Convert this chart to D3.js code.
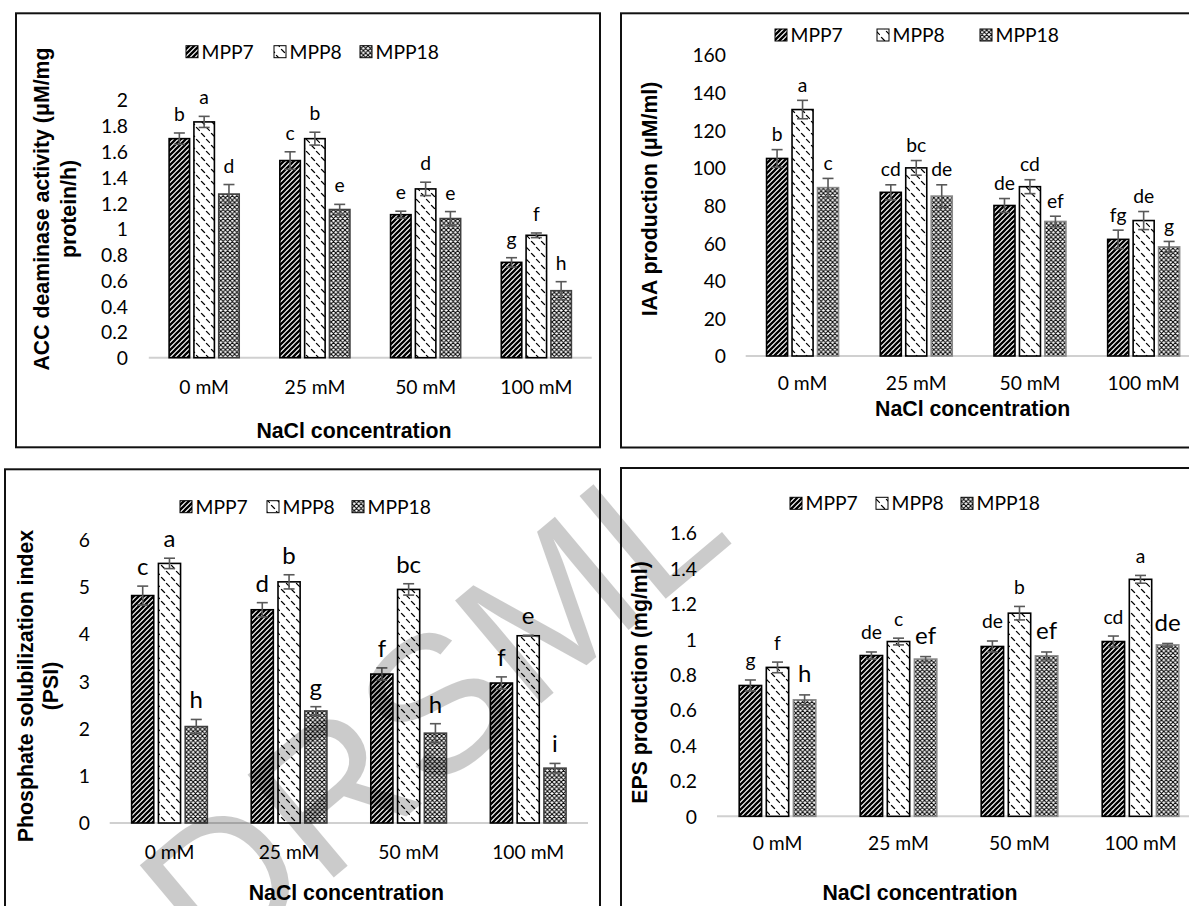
<!DOCTYPE html>
<html><head><meta charset="utf-8">
<script src="https://cdn.jsdelivr.net/npm/d3@7"></script>
<style>body{margin:0;background:#fff;overflow:hidden}</style>
</head><body>
<svg id="c" width="1189" height="906"></svg>
<script>
// ---------- DATA ----------
const categories = ["0 mM", "25 mM", "50 mM", "100 mM"];
const seriesNames = ["MPP7", "MPP8", "MPP18"];
const xAxisTitle = "NaCl concentration";

// ACC deaminase activity
const accTicks = [0, 0.2, 0.4, 0.6, 0.8, 1, 1.2, 1.4, 1.6, 1.8, 2];
const accMPP7 = [1.70, 1.53, 1.11, 0.74];
const accMPP8 = [1.83, 1.70, 1.31, 0.95];
const accMPP18 = [1.27, 1.15, 1.08, 0.52];
const accErrMPP7 = [0.044, 0.068, 0.027, 0.036];
const accErrMPP8 = [0.043, 0.05, 0.052, 0.018];
const accErrMPP18 = [0.074, 0.04, 0.054, 0.07];
const accLetMPP7 = ["b", "c", "e", "g"];
const accLetMPP8 = ["a", "b", "d", "f"];
const accLetMPP18 = ["d", "e", "e", "h"];

// IAA production
const iaaTicks = [0, 20, 40, 60, 80, 100, 120, 140, 160];
const iaaMPP7 = [105, 87, 80, 62];
const iaaMPP8 = [131, 100, 90, 72];
const iaaMPP18 = [89.5, 85, 71.5, 58];
const iaaErrMPP7 = [4.7, 4.0, 3.7, 4.9];
const iaaErrMPP8 = [4.9, 3.9, 3.7, 4.8];
const iaaErrMPP18 = [4.9, 6.0, 2.8, 2.9];
const iaaLetMPP7 = ["b", "cd", "de", "fg"];
const iaaLetMPP8 = ["a", "bc", "cd", "de"];
const iaaLetMPP18 = ["c", "de", "ef", "g"];

// Phosphate solubilization index
const psiTicks = [0, 1, 2, 3, 4, 5, 6];
const psiMPP7 = [4.81, 4.51, 3.15, 2.96];
const psiMPP8 = [5.49, 5.10, 4.94, 3.96];
const psiMPP18 = [2.04, 2.37, 1.90, 1.16];
const psiErrMPP7 = [0.2, 0.15, 0.13, 0.13];
const psiErrMPP8 = [0.11, 0.15, 0.12, 0.01];
const psiErrMPP18 = [0.15, 0.09, 0.2, 0.1];
const psiLetMPP7 = ["c", "d", "f", "f"];
const psiLetMPP8 = ["a", "b", "bc", "e"];
const psiLetMPP18 = ["h", "g", "h", "i"];

// EPS production
const epsTicks = [0, 0.2, 0.4, 0.6, 0.8, 1, 1.2, 1.4, 1.6];
const epsMPP7 = [0.738, 0.907, 0.958, 0.986];
const epsMPP8 = [0.84, 0.986, 1.146, 1.337];
const epsMPP18 = [0.657, 0.887, 0.905, 0.967];
const epsErrMPP7 = [0.031, 0.02, 0.031, 0.031];
const epsErrMPP8 = [0.03, 0.019, 0.038, 0.022];
const epsErrMPP18 = [0.028, 0.014, 0.022, 0.008];
const epsLetMPP7 = ["g", "de", "de", "cd"];
const epsLetMPP8 = ["f", "c", "b", "a"];
const epsLetMPP18 = ["h", "ef", "ef", "de"];

const watermarkText = "DRSML";

// ---------- DRAWING ----------
const svg = d3.select("#c");
const defs = svg.append("defs");
const REG = "Lato, 'Open Sans', sans-serif";
const BOLD = "'Liberation Sans', Arial, sans-serif";

function mkPat(id, w, h, d, sw) {
  const p = defs.append("pattern").attr("id", id)
    .attr("patternUnits", "userSpaceOnUse").attr("width", w).attr("height", h);
  p.append("rect").attr("width", w).attr("height", h).attr("fill", "#fff");
  p.append("path").attr("d", d).attr("stroke", "#000").attr("stroke-width", sw)
    .attr("fill", "none").attr("stroke-linecap", "square");
}
mkPat("pat0", 5, 5, "M0,5L5,0M-1,1L1,-1M4,6L6,4", 2.3);
mkPat("pat1", 10, 12, "M1.5,1.5L4.5,4.5M6.5,7.5L9.5,10.5", 1.2);
mkPat("pat2", 4.6, 4.6, "M0,0L4.6,4.6M4.6,0L0,4.6", 1.0);

const panels = [
  { box: [16, 13.3, 600, 447.3], xr: [148.8, 591.7], yr: [357.7, 100], dom: [0, 2], ticks: accTicks,
    tickX: 128, xLabY: 387, xTitle: [354, 430],
    yTitle: ["ACC deaminase activity (μM/mg", "protein/h)"], yTitleX: [48.5, 75.5], yTitleCY: 209,
    legendY: 51.7, legendX: [186, 274, 360], gap: 12, big: [false, false, false], out18: "#404040",
    vals: [accMPP7, accMPP8, accMPP18], errs: [accErrMPP7, accErrMPP8, accErrMPP18],
    lets: [accLetMPP7, accLetMPP8, accLetMPP18] },
  { box: [621, 13.3, 1200, 447.5], xr: [745.7, 1200.5], yr: [356, 55], dom: [0, 160], ticks: iaaTicks,
    tickX: 726, xLabY: 383.3, xTitle: [972.7, 408.3],
    yTitle: ["IAA production (μM/ml)"], yTitleX: [657], yTitleCY: 199,
    legendY: 35, legendX: [775, 877, 980], gap: 8.5, big: [false, false, false], out18: "#8a8a8a",
    vals: [iaaMPP7, iaaMPP8, iaaMPP18], errs: [iaaErrMPP7, iaaErrMPP8, iaaErrMPP18],
    lets: [iaaLetMPP7, iaaLetMPP8, iaaLetMPP18] },
  { box: [5, 469.3, 600, 920], xr: [109.7, 588], yr: [823, 539.3], dom: [0, 6], ticks: psiTicks,
    tickX: 90, xLabY: 851.7, xTitle: [346.3, 892],
    yTitle: ["Phosphate solubilization index", "(PSI)"], yTitleX: [32.5, 57.5], yTitleCY: 686,
    legendY: 506.7, legendX: [180, 267, 352], gap: 11, big: [true, true, true], out18: "#404040",
    vals: [psiMPP7, psiMPP8, psiMPP18], errs: [psiErrMPP7, psiErrMPP8, psiErrMPP18],
    lets: [psiLetMPP7, psiLetMPP8, psiLetMPP18] },
  { box: [621, 468, 1200, 920], xr: [717, 1201], yr: [816.3, 532.7], dom: [0, 1.6], ticks: epsTicks,
    tickX: 697, xLabY: 843.3, xTitle: [920, 892.5],
    yTitle: ["EPS production (mg/ml)"], yTitleX: [647], yTitleCY: 682.5,
    legendY: 503.3, legendX: [790, 876, 961], gap: 12.5, big: [false, false, true], out18: "#8a8a8a",
    vals: [epsMPP7, epsMPP8, epsMPP18], errs: [epsErrMPP7, epsErrMPP8, epsErrMPP18],
    lets: [epsLetMPP7, epsLetMPP8, epsLetMPP18] }
];

panels.forEach(p => {
  const g = svg.append("g");
  // frame
  g.append("rect").attr("x", p.box[0]).attr("y", p.box[1])
    .attr("width", p.box[2] - p.box[0]).attr("height", p.box[3] - p.box[1])
    .attr("fill", "#fff").attr("stroke", "#111").attr("stroke-width", 2);

  const x0 = d3.scaleBand().domain(categories).range(p.xr).padding(0);
  const step = x0.step();
  const pi = 0.174;
  const x1 = d3.scaleBand().domain(seriesNames)
    .range([-0.336 * step, 0.336 * step]).paddingInner(pi).paddingOuter(pi / 2);
  const y = d3.scaleLinear().domain(p.dom).range(p.yr);

  // y axis tick labels
  const ya = g.append("g").attr("transform", `translate(${p.tickX},0)`)
    .call(d3.axisLeft(y).tickValues(p.ticks).tickSize(0).tickPadding(0).tickFormat(d => String(d)));
  ya.select(".domain").remove();
  ya.selectAll("text").attr("font-family", REG).attr("font-size", 19.3).attr("fill", "#000").attr("dy", "0.36em");

  // baseline
  g.append("line").attr("x1", p.xr[0]).attr("x2", p.xr[1]).attr("y1", y(0)).attr("y2", y(0))
    .attr("stroke", "#d0d0d0").attr("stroke-width", 2);

  // x axis labels
  const xa = g.append("g").attr("transform", `translate(0,${p.xLabY})`)
    .call(d3.axisBottom(x0).tickSize(0).tickPadding(0));
  xa.select(".domain").remove();
  xa.selectAll("text").attr("y", 0).attr("dy", "0.36em").attr("font-family", REG)
    .attr("font-size", 19.3).attr("fill", "#000");

  // bars
  seriesNames.forEach((s, si) => {
    const vals = p.vals[si], errs = p.errs[si], lets = p.lets[si];
    const bw = x1.bandwidth();
    const outline = si === 2 ? p.out18 : "#000";
    const sg = g.append("g");
    sg.selectAll("rect").data(categories).join("rect")
      .attr("x", (c) => x0(c) + step / 2 + x1(s))
      .attr("y", (c, i) => y(vals[i]))
      .attr("width", bw)
      .attr("height", (c, i) => y(0) - y(vals[i]))
      .attr("fill", `url(#pat${si})`).attr("stroke", outline).attr("stroke-width", 1.6);
    // error bars
    const cx = (c) => x0(c) + step / 2 + x1(s) + bw / 2;
    const eg = g.append("g").attr("stroke", "#595959").attr("stroke-width", 1.6);
    categories.forEach((c, i) => {
      const top = y(vals[i] + errs[i]), bot = y(vals[i] - errs[i]);
      eg.append("line").attr("x1", cx(c)).attr("x2", cx(c)).attr("y1", top).attr("y2", bot);
      eg.append("line").attr("x1", cx(c) - 5.5).attr("x2", cx(c) + 5.5).attr("y1", top).attr("y2", top);
      eg.append("line").attr("x1", cx(c) - 5.5).attr("x2", cx(c) + 5.5).attr("y1", bot).attr("y2", bot);
    });
    // letters
    g.append("g").selectAll("text").data(categories).join("text")
      .attr("x", cx)
      .attr("y", (c, i) => y(vals[i] + errs[i]) - p.gap)
      .attr("text-anchor", "middle")
      .attr("font-family", REG)
      .attr("font-size", p.big[si] ? 24 : 19.3)
      .attr("fill", "#000")
      .text((c, i) => lets[i]);
  });

  // legend
  seriesNames.forEach((s, si) => {
    const lx = p.legendX[si];
    g.append("rect").attr("x", lx).attr("y", p.legendY - 6).attr("width", 12).attr("height", 12)
      .attr("fill", `url(#pat${si})`).attr("stroke", "#000").attr("stroke-width", 1);
    g.append("text").attr("x", lx + 15.5).attr("y", p.legendY).attr("dy", "0.36em")
      .attr("font-family", REG).attr("font-size", 19.3).attr("fill", "#000").text(s);
  });

  // axis titles
  g.append("text").attr("x", p.xTitle[0]).attr("y", p.xTitle[1]).attr("dy", "0.36em")
    .attr("text-anchor", "middle").attr("font-family", BOLD).attr("font-weight", "bold")
    .attr("font-size", 21.3).attr("fill", "#000").text(xAxisTitle);
  p.yTitle.forEach((t, k) => {
    g.append("text").attr("transform", `translate(${p.yTitleX[k]},${p.yTitleCY}) rotate(-90)`)
      .attr("text-anchor", "middle").attr("font-family", BOLD).attr("font-weight", "bold")
      .attr("font-size", 21.3).attr("fill", "#000").text(t);
  });
});

// watermark
svg.append("text").attr("transform", "translate(430,705) rotate(-40)")
  .attr("text-anchor", "middle").attr("dy", "0.36em")
  .attr("font-family", BOLD).attr("font-size", 195).attr("fill", "#000").attr("opacity", 0.2)
  .text(watermarkText);
</script>
</body></html>
